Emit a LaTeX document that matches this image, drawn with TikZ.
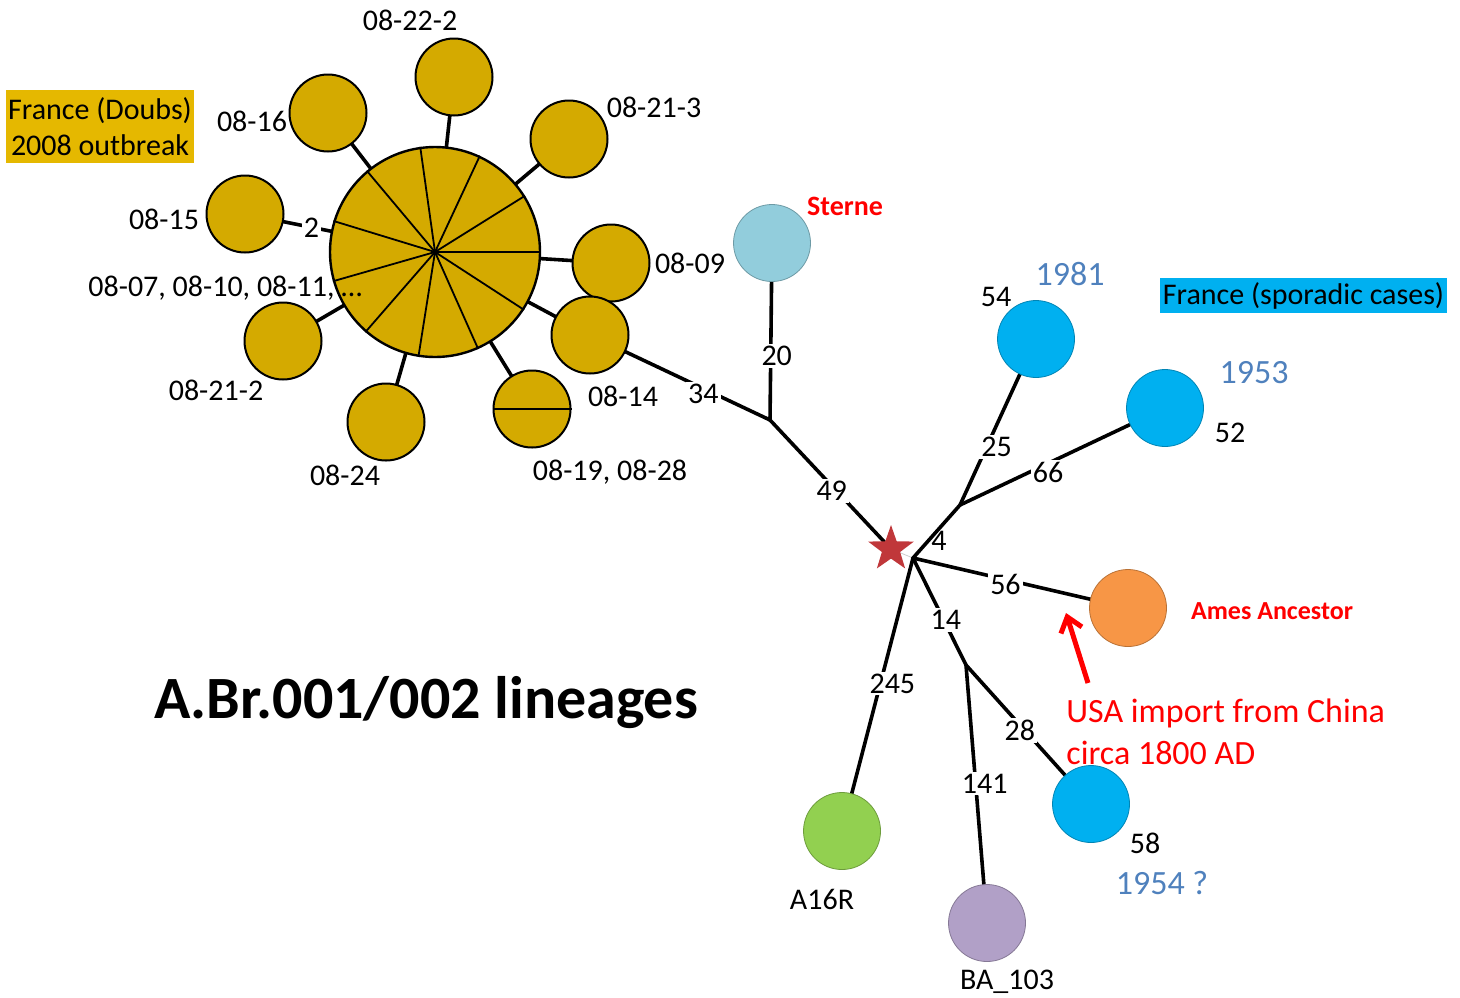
\documentclass[tikz,border=0pt]{standalone}
\usepackage{fontspec}
\setmainfont{Carlito}
\usetikzlibrary{shapes.geometric,arrows.meta}
\pgfdeclarelayer{bg}
\pgfsetlayers{bg,main}
\definecolor{gold}{RGB}{212,170,0}
\definecolor{boxgold}{RGB}{229,184,0}
\definecolor{cyanb}{RGB}{0,176,240}
\definecolor{sterneblue}{RGB}{146,205,220}
\definecolor{amesor}{RGB}{247,150,70}
\definecolor{agreen}{RGB}{146,208,80}
\definecolor{bapurple}{RGB}{177,160,199}
\definecolor{starred}{RGB}{192,55,58}
\definecolor{yearblue}{RGB}{79,129,189}
\definecolor{redtxt}{RGB}{255,0,0}
\begin{document}
\begin{tikzpicture}[x=0.5pt,y=-0.5pt,
  sat/.style={circle,draw=black,line width=1pt,fill=gold,minimum size=38.5pt,inner sep=0pt},
  iso/.style={circle,draw=#1!75!black,line width=0.4pt,fill=#1,minimum size=38.5pt,inner sep=0pt},
  lbl/.style={font=\fontsize{15}{18}\selectfont,inner sep=1pt},
  elbl/.style={lbl,fill=white},
  year/.style={font=\fontsize{17}{20}\selectfont,text=yearblue,inner sep=1pt},
  edge/.style={line width=1.8pt,line cap=round,line join=round},
  ]
\useasboundingbox (0,0) rectangle (1460,997);

% big node and satellites
\node[sat,minimum size=105pt,line width=1.2pt] (big) at (435,252) {};
\foreach \k [evaluate=\k as \a using \k*360/11] in {0,...,10}
  \draw[line width=0.9pt] (big.center) -- (big.\a);
\node[sat] (s0822) at (454,77) {};
\node[sat] (s0816) at (328,113) {};
\node[sat] (s0821c) at (569,139) {};
\node[sat] (s0815) at (245,214) {};
\node[sat] (s0809) at (611,263) {};
\node[sat] (s0814) at (590,335) {};
\node[sat] (s0819) at (532,409) {};
\node[sat] (s0824) at (386,422) {};
\node[sat] (s0821b) at (283,341) {};
\draw[line width=1pt] (s0819.west) -- (s0819.east);

% right part
\node[iso=sterneblue] (sterne) at (772,243) {};
\coordinate (j1) at (770,420);
\node[star,star points=5,star point ratio=2.5,fill=starred,minimum size=24pt,inner sep=0pt] (star) at (891,549) {};
\coordinate (hub) at (913,558);
\coordinate (j2) at (960,505);
\coordinate (j3) at (966,665);
\node[iso=cyanb] (c54) at (1036,339) {};
\node[iso=cyanb] (c52) at (1165,408) {};
\node[iso=amesor] (ames) at (1128,608) {};
\node[iso=cyanb] (c58) at (1091,804) {};
\node[iso=bapurple] (ba) at (987,923) {};
\node[iso=agreen] (a16r) at (842,831) {};

\begin{pgfonlayer}{bg}
  \foreach \s in {s0822,s0816,s0821c,s0809,s0814,s0819,s0824,s0821b}
    \draw[edge] (big.center) -- (\s.center);
  \draw[edge] (s0815.center) -- node[elbl,pos=0.35] (l2) {2} (big.center);
  \draw[edge] (s0814.center) -- node[elbl,pos=0.63,yshift=-2.5pt] (l34) {34} (j1);
  \draw[edge] (sterne.center) -- node[elbl,pos=0.64,xshift=3pt] (l20) {20} (j1);
  \draw[edge] (j1) -- node[elbl,pos=0.51,yshift=-2.5pt] (l49) {49} (star.center);
  \draw[gray!40,line width=0.4pt] (star.center) -- (hub);
  \draw[edge] (hub) -- (j2);
  \draw[edge] (hub) -- node[elbl,pos=0.43,yshift=-2.5pt] (l56) {56} (ames.center);
  \draw[edge] (hub) -- node[elbl,pos=0.58,xshift=1pt] (l14) {14} (j3);
  \draw[edge] (hub) -- node[elbl,pos=0.46,xshift=6pt] (l245) {245} (a16r.center);
  \draw[edge] (j2) -- node[elbl,pos=0.35,xshift=5pt] (l25) {25} (c54.center);
  \draw[edge] (j2) -- node[elbl,pos=0.43,yshift=-4.5pt] (l66) {66} (c52.center);
  \draw[edge] (j3) -- node[elbl,pos=0.43,yshift=-3pt] (l28) {28} (c58.center);
  \draw[edge] (j3) -- node[elbl,pos=0.46,xshift=4.5pt] (l141) {141} (ba.center);
\end{pgfonlayer}
\node[lbl] (l4) at (939,541) {4};

% satellite labels
\node[lbl] (t0822) at (410,20) {08-22-2};
\node[lbl] (t0816) at (252,121) {08-16};
\node[lbl] (t0821c) at (654,107) {08-21-3};
\node[lbl] (t0815) at (164,219) {08-15};
\node[lbl] (t0809) at (690,263) {08-09};
\node[lbl,anchor=west] (t0807) at (86,288) {08-07, 08-10, 08-11, …};
\node[lbl] (t0821b) at (216,390) {08-21-2};
\node[lbl] (t0824) at (345,475) {08-24};
\node[lbl] (t0814) at (623,396) {08-14};
\node[lbl] (t0819) at (610,472) {08-19, 08-28};

% group boxes
\node[fill=boxgold,minimum width=93pt,minimum height=36.5pt,inner sep=1pt,align=center,
  font=\fontsize{15}{18}\selectfont] (doubs) at (100,126.5) {France (Doubs)\\2008 outbreak};
\node[fill=cyanb,minimum width=143.5pt,minimum height=17.5pt,inner sep=1pt,
  font=\fontsize{15}{18}\selectfont] (spor) at (1303.5,295.5) {France (sporadic cases)};

% right labels
\node[font=\fontsize{14}{17}\selectfont\bfseries,text=redtxt,inner sep=1pt] (tsterne) at (845,206) {Sterne};
\node[font=\fontsize{13}{16}\selectfont\bfseries,text=redtxt,inner sep=1pt] (tames) at (1272,611) {Ames Ancestor};
\node[lbl] (t54) at (996,297) {54};
\node[year] (y1981) at (1070,274) {1981};
\node[lbl] (t52) at (1230,433) {52};
\node[year] (y1953) at (1254,373) {1953};
\node[lbl] (t58) at (1145,843) {58};
\node[year] (y1954) at (1162,883) {1954 ?};
\node[lbl] (ta16r) at (822,899) {A16R};
\node[lbl] (tba) at (1007,982) {BA\_103};

% arrow and note
\coordinate (ah) at (1066,613);
\coordinate (at) at (1088,683);
\draw[redtxt,line width=2.5pt,-{Straight Barb[length=7pt,width=11pt]}] (at) -- (ah);
\node[anchor=west,text=redtxt,font=\fontsize{17}{21}\selectfont,align=left,inner sep=0pt] (usa) at (1066,732) {USA import from China\\circa 1800 AD};

% title
\node[font=\fontsize{30}{36}\selectfont\bfseries,inner sep=0pt] (title) at (426,703) {A.Br.001/002 lineages};
\end{tikzpicture}
\end{document}
